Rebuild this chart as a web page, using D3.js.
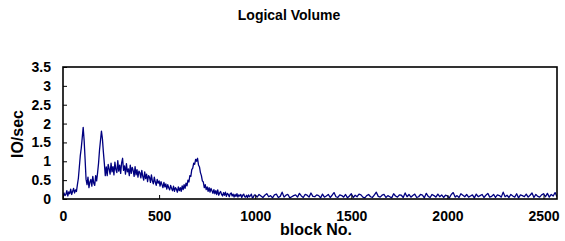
<!DOCTYPE html>
<html>
<head>
<meta charset="utf-8">
<script src="https://cdn.jsdelivr.net/npm/d3@7"></script>
<style>
  body { margin: 0; background: #fff; }
  text { font-family: "Liberation Sans", Arial, sans-serif; font-weight: bold; fill: #000; }
</style>
</head>
<body>
<div id="chart"></div>
<script>
// chart size and plot box
var width = 565, height = 241;
var margin = {top: 67, right: 8, bottom: 42, left: 63};

// IO/sec, one value every 5 blocks from block 0 to block 1000
var headStep = 5;
var ioHead = [
  0.05,0.16,0.09,0.12,0.22,0.08,0.19,0.14,0.26,0.12,0.20,0.28,0.16,0.24,0.20,
  0.38,0.55,0.85,1.15,1.35,1.62,1.90,1.55,1.05,0.52,
  0.38,0.58,0.30,0.45,0.52,0.34,0.60,0.42,0.36,0.62,0.48,0.70,
  0.95,1.30,1.55,1.80,1.60,1.25,0.95,0.62,
  0.85,0.62,0.92,0.80,0.66,0.95,0.72,0.86,0.64,0.98,
  0.78,0.70,1.02,0.74,0.90,0.68,0.96,1.08,0.76,0.88,
  0.66,0.94,0.72,0.80,0.62,0.90,0.68,0.84,0.76,0.60,
  0.86,0.64,0.78,0.58,0.74,0.70,
  0.56,0.76,0.60,0.50,0.72,0.54,0.66,0.46,0.62,0.58,
  0.44,0.64,0.48,0.40,0.58,0.45,0.36,0.52,0.42,0.48,
  0.34,0.46,0.38,0.30,0.44,0.32,0.40,0.26,0.38,0.30,
  0.24,0.36,0.28,0.22,0.34,0.20,0.30,0.26,0.18,0.32,
  0.22,0.30,0.20,0.35,0.25,0.38,0.28,0.42,0.35,0.50,
  0.45,0.62,0.60,0.78,0.82,0.95,0.92,1.05,1.00,1.08,
  0.90,0.85,0.70,0.62,0.48,0.45,0.30,0.38,0.25,0.32,
  0.20,0.30,0.18,0.28,0.22,0.15,0.25,0.14,0.22,0.12,
  0.24,0.10,0.16,0.20,0.12,0.08,0.17,0.10,0.18,0.07,
  0.15,0.12,0.06,0.14,0.16,0.08,0.13,0.05,0.12,0.07,
  0.14,0.05,0.11,0.08,0.12,0.04,0.10,0.13,0.06,0.05,
  0.10,0.04,0.11,0.06,0.09,0.13,0.03,0.05,0.10,0.11
];

// IO/sec, one value every 10 blocks from block 1010 to block 2570
var tailStart = 1010, tailStep = 10;
var ioTail = [
  0.05,0.12,0.08,0.04,0.10,0.14,0.06,0.09,0.03,0.11,
  0.13,0.04,0.07,0.18,0.05,0.10,0.12,0.03,0.06,0.09,
  0.11,0.05,0.15,0.08,0.04,0.12,0.10,0.05,0.16,0.07,
  0.06,0.11,0.09,0.03,0.13,0.05,0.08,0.12,0.04,0.10,
  0.17,0.06,0.04,0.11,0.09,0.05,0.12,0.03,0.08,0.14,
  0.04,0.10,0.06,0.13,0.11,0.05,0.03,0.09,0.12,0.06,
  0.04,0.11,0.18,0.07,0.05,0.10,0.12,0.04,0.09,0.06,
  0.03,0.14,0.08,0.05,0.11,0.10,0.04,0.16,0.06,0.12,
  0.05,0.09,0.13,0.04,0.06,0.12,0.10,0.03,0.15,0.07,
  0.04,0.12,0.09,0.05,0.13,0.06,0.11,0.04,0.10,0.08,
  0.03,0.12,0.17,0.05,0.09,0.04,0.14,0.10,0.06,0.12,
  0.05,0.08,0.11,0.03,0.13,0.06,0.09,0.12,0.04,0.10,
  0.15,0.05,0.07,0.12,0.04,0.11,0.09,0.05,0.18,0.06,
  0.10,0.04,0.12,0.08,0.05,0.14,0.03,0.11,0.09,0.06,
  0.13,0.05,0.10,0.16,0.04,0.12,0.07,0.05,0.11,0.14,
  0.06,0.15,0.05,0.12,0.08,0.17,0.06
];

var xTicks = [0, 500, 1000, 1500, 2000, 2500];
var yTicks = [0, 0.5, 1, 1.5, 2, 2.5, 3, 3.5];
var xMax = 2570, yMax = 3.5;

// pair block numbers with values
var points = [];
ioHead.forEach(function(v, i) { points.push({block: i * headStep, io: v}); });
ioTail.forEach(function(v, i) { points.push({block: tailStart + i * tailStep, io: v}); });

var svg = d3.select('#chart').append('svg')
    .attr('width', width)
    .attr('height', height);

var x = d3.scaleLinear().domain([0, xMax]).range([margin.left, width - margin.right]);
var y = d3.scaleLinear().domain([0, yMax]).range([height - margin.bottom, margin.top]);

// title
svg.append('text')
    .attr('x', 289).attr('y', 20)
    .attr('text-anchor', 'middle')
    .style('font-size', '14px')
    .text('Logical Volume');

// clip so the trace stays inside the box
svg.append('defs').append('clipPath').attr('id', 'plot-clip')
  .append('rect')
    .attr('x', margin.left).attr('y', margin.top)
    .attr('width', width - margin.left - margin.right)
    .attr('height', height - margin.top - margin.bottom);

var line = d3.line()
    .x(function(d) { return x(d.block); })
    .y(function(d) { return y(d.io); });

svg.append('path')
    .datum(points)
    .attr('clip-path', 'url(#plot-clip)')
    .attr('fill', 'none')
    .attr('stroke', '#000080')
    .attr('stroke-width', 1.3)
    .attr('stroke-linejoin', 'round')
    .attr('d', line);

// axes with ticks pointing into the box
var xAxis = svg.append('g')
    .attr('transform', 'translate(0,' + (height - margin.bottom) + ')')
    .call(d3.axisBottom(x).tickValues(xTicks).tickSizeInner(-4).tickSizeOuter(0).tickPadding(12)
      .tickFormat(d3.format('d')));
var yAxis = svg.append('g')
    .attr('transform', 'translate(' + margin.left + ',0)')
    .call(d3.axisLeft(y).tickValues(yTicks).tickSizeInner(-4).tickSizeOuter(0).tickPadding(12)
      .tickFormat(d3.format('')));

[xAxis, yAxis].forEach(function(g) {
  g.select('.domain').remove();
  g.selectAll('.tick line').attr('stroke', '#000').attr('stroke-width', 1);
  g.selectAll('.tick text')
    .style('font-size', '14px')
    .style('font-family', '"Liberation Sans", Arial, sans-serif')
    .style('font-weight', 'bold')
    .attr('fill', '#000');
});

// frame
svg.append('rect')
    .attr('x', margin.left).attr('y', margin.top)
    .attr('width', width - margin.left - margin.right)
    .attr('height', height - margin.top - margin.bottom)
    .attr('fill', 'none')
    .attr('stroke', '#000')
    .attr('stroke-width', 1.6);

// axis titles
svg.append('text')
    .attr('x', 316).attr('y', 235)
    .attr('text-anchor', 'middle')
    .style('font-size', '16px')
    .text('block No.');

svg.append('text')
    .attr('transform', 'translate(23,134) rotate(-90)')
    .attr('text-anchor', 'middle')
    .style('font-size', '16px')
    .text('IO/sec');
</script>
</body>
</html>
